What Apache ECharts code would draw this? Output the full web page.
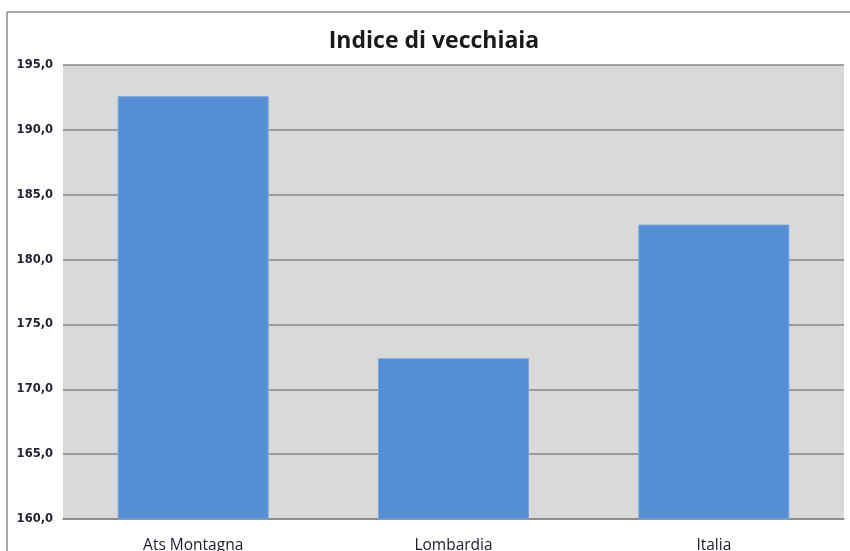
<!DOCTYPE html>
<html>
<head>
<meta charset="utf-8">
<script src="https://cdn.jsdelivr.net/npm/echarts@6/dist/echarts.min.js"></script>
<style>
  html, body { margin: 0; padding: 0; background: #ffffff; }
  #chart { width: 850px; height: 551px; }
</style>
</head>
<body>
<div id="chart"></div>
<script>
// Indice di vecchiaia: territorial comparison
const categories = ['Ats Montagna', 'Lombardia', 'Italia'];
const values = [192.6, 172.4, 182.7];
const yTickLabels = ['160,0', '165,0', '170,0', '175,0', '180,0', '185,0', '190,0', '195,0'];
const yMin = 160, yMax = 195, yStep = 5;

const chart = echarts.init(document.getElementById('chart'), null, { renderer: 'canvas' });

chart.setOption({
  animation: false,
  backgroundColor: '#ffffff',
  title: {
    text: 'Indice di vecchiaia',
    left: 429,
    top: 25,
    textAlign: 'center',
    textStyle: {
      fontFamily: 'Open Sans',
      fontWeight: 'bold',
      fontSize: 23,
      color: '#1a1a1a'
    }
  },
  graphic: [
    // outer frame edges
    { type: 'line', shape: { x1: 7, y1: 12, x2: 850, y2: 12 }, style: { stroke: '#8a8a8a', lineWidth: 1.5 }, z: 10 },
    { type: 'line', shape: { x1: 7, y1: 12, x2: 7, y2: 551 }, style: { stroke: '#8a8a8a', lineWidth: 1.5 }, z: 10 }
  ],
  grid: {
    left: 63,
    right: 6,
    top: 65,
    bottom: 32,
    containLabel: false,
    outerBoundsMode: 'none',
    show: true,
    backgroundColor: '#d9d9d9',
    borderWidth: 0
  },
  xAxis: {
    type: 'category',
    data: categories,
    axisLine: { show: true, lineStyle: { color: '#868686', width: 1.5 } },
    axisTick: { show: false },
    axisLabel: {
      margin: 19,
      fontFamily: 'Open Sans',
      fontSize: 15.5,
      color: '#1a1a2a'
    }
  },
  yAxis: {
    type: 'value',
    min: yMin,
    max: yMax,
    interval: yStep,
    axisLine: { show: false },
    axisTick: { show: false },
    splitLine: { show: true, lineStyle: { color: '#868686', width: 1.5 } },
    axisLabel: {
      margin: 10,
      fontFamily: 'DejaVu Sans',
      fontWeight: 'bold',
      fontSize: 11.5,
      color: '#222236',
      formatter: function (v) {
        const i = Math.round((v - yMin) / yStep);
        return yTickLabels[i] !== undefined ? yTickLabels[i] : '';
      }
    }
  },
  series: [{
    type: 'bar',
    data: values,
    barCategoryGap: '42%',
    itemStyle: {
      color: '#558ed5',
      borderColor: '#7aa6dc',
      borderWidth: 1
    },
    z: 3
  }]
});
</script>
</body>
</html>
